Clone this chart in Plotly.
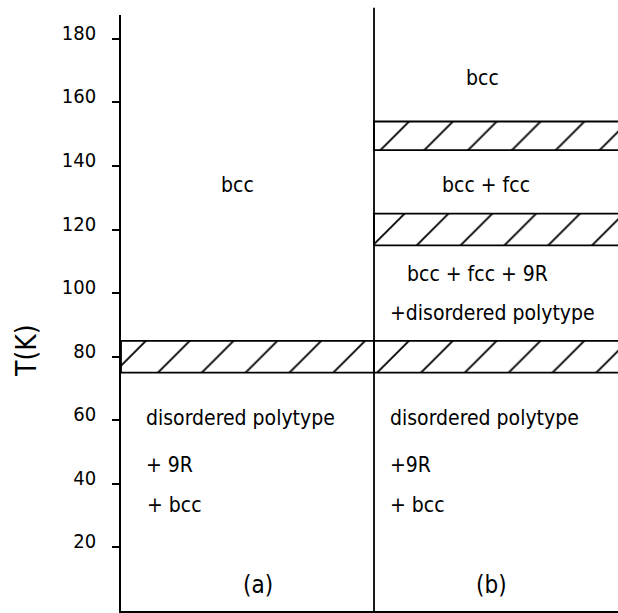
import plotly.graph_objects as go

# ---- data ----
panels = ["(a)", "(b)"]
panel_x0 = [0.0, 1.0]
panel_x1 = [1.0, 2.0]

# hatched transition bands (K)
band_panel = [0, 1, 1, 1]
band_lo = [75, 75, 115, 145]
band_hi = [85, 85, 125, 154]

y_ticks = [20, 40, 60, 80, 100, 120, 140, 160, 180]

label_text = ["bcc", "disordered polytype", "+ 9R", "+ bcc",
              "bcc", "bcc + fcc", "bcc + fcc + 9R", "+disordered polytype",
              "disordered polytype", "+9R", "+ bcc",
              "(a)", "(b)"]
label_x = [0.462, 0.091, 0.091, 0.095,
           1.427, 1.443, 1.123, 1.055,
           1.055, 1.055, 1.055,
           0.54, 1.466]
label_T = [134, 60.7, 45.9, 33.3,
           167.6, 134, 106, 93.7,
           60.7, 45.9, 33.3,
           8.2, 8.2]
label_anchor = ["center", "left", "left", "left",
                "center", "center", "left", "left",
                "left", "left", "left",
                "center", "center"]

FONT = "DejaVu Sans Condensed, DejaVu Sans, sans-serif"

fig = go.Figure()

for p, lo, hi in zip(band_panel, band_lo, band_hi):
    x0, x1 = panel_x0[p], panel_x1[p]
    fig.add_trace(go.Scatter(
        x=[x0, x1, x1, x0, x0], y=[lo, lo, hi, hi, lo],
        mode="lines", fill="toself", fillcolor="white",
        fillpattern=dict(shape="/", size=31, solidity=0.06,
                         fgcolor="black", bgcolor="white", fillmode="replace"),
        line=dict(color="black", width=1.8),
        hoverinfo="skip", showlegend=False,
    ))

for t, x, y, a in zip(label_text, label_x, label_T, label_anchor):
    big = t.startswith("(")
    fig.add_annotation(x=x, y=y, text=t, showarrow=False, xanchor=a, yanchor="middle",
                       font=dict(family=FONT, size=24 if big else 21, color="black"))

fig.add_annotation(xref="paper", x=-0.19, xanchor="center", y=82, text="T(K)", textangle=-90,
                   showarrow=False, font=dict(family=FONT, size=28, color="black"))

# divider between panels
fig.add_shape(type="line", x0=panel_x1[0], x1=panel_x1[0], yref="paper", y0=0, y1=1.012,
              line=dict(color="black", width=1.8))

fig.update_layout(
    width=618, height=613,
    margin=dict(l=121, r=0, t=15, b=2),
    paper_bgcolor="white", plot_bgcolor="white",
    showlegend=False,
    xaxis=dict(range=[0, 1.9644], showline=True, linecolor="black", linewidth=1.8,
               showticklabels=False, ticks="", showgrid=False, zeroline=False),
    yaxis=dict(range=[0, 187.5], showline=True, linecolor="black", linewidth=1.8,
               tickvals=y_ticks, ticks="outside", ticklen=7, tickwidth=1.5, tickcolor="black",
               ticklabelstandoff=12, ticklabelshift=-6,
               tickfont=dict(family=FONT, size=20, color="black"),
               showgrid=False, zeroline=False),
)

fig.write_html("out.html")
